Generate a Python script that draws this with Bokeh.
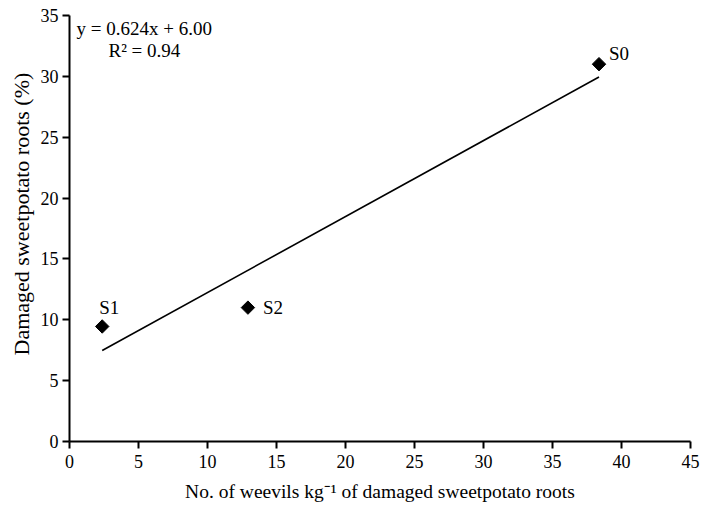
import math
from bokeh.plotting import figure
from bokeh.models import Range1d, FixedTicker, ColumnDataSource, Label, Title
from bokeh.core.properties import value
from bokeh.embed import file_html
from bokeh.resources import INLINE

# data
labels = ["S0", "S1", "S2"]
weevils = [38.37, 2.37, 12.93]
damaged = [31.0, 9.45, 11.0]
slope = 0.624
intercept = 6.00
r2 = 0.94
x_ticks = [0, 5, 10, 15, 20, 25, 30, 35, 40, 45]
y_ticks = [0, 5, 10, 15, 20, 25, 30, 35]
x_title = "No. of weevils kg\u207b\u00b9 of damaged sweetpotato roots"
y_title = "Damaged sweetpotato roots (%)"

FONT = "Liberation Serif"

p = figure(width=700, height=504, output_backend="svg", toolbar_location=None,
           x_range=Range1d(0, 45), y_range=Range1d(0, 35),
           min_border_left=69, min_border_right=10, min_border_top=15, min_border_bottom=63)
p.outline_line_color = None
p.grid.visible = False
p.background_fill_color = "white"

for ax in (p.xaxis[0], p.yaxis[0]):
    ax.axis_line_width = 2
    ax.axis_line_color = "black"
    ax.major_tick_line_width = 2
    ax.major_tick_out = 7
    ax.major_tick_in = 0
    ax.minor_tick_line_color = None
    ax.major_label_text_font = FONT
    ax.major_label_text_font_size = "18px"
    ax.major_label_text_color = "black"
    ax.axis_label_text_font = FONT
    ax.axis_label_text_font_style = "normal"
    ax.axis_label_text_color = "black"

p.xaxis.ticker = FixedTicker(ticks=x_ticks)
p.yaxis.ticker = FixedTicker(ticks=y_ticks)
p.xaxis.axis_label = x_title
p.xaxis.axis_label_text_font_size = "19.5px"
p.xaxis.major_label_standoff = 6
p.yaxis.major_label_standoff = 4
p.xaxis.axis_label_standoff = 10

# y title as a side title so it can sit slightly above the frame centre
p.add_layout(Title(text=y_title, align="left", offset=86, standoff=8,
                   text_font=FONT, text_font_size="22px", text_font_style="normal",
                   text_color="black"), "left")

# regression line over data span
xmin, xmax = min(weevils), max(weevils)
p.line([xmin, xmax], [slope * xmin + intercept, slope * xmax + intercept],
       line_color="black", line_width=1.6)

src = ColumnDataSource(dict(x=weevils, y=damaged, lab=labels,
                            xo=[10, -3, 15], yo=[-11, -19, 0]))
p.scatter("x", "y", source=src, marker="square", size=9.5, angle=math.pi / 4,
          color="black")
p.text("x", "y", text="lab", source=src, x_offset="xo", y_offset="yo",
       text_font=value(FONT), text_font_size="19px", text_baseline="middle",
       text_align="left", text_color="black")

p.add_layout(Label(x=0, y=35, x_units="data", y_units="data", x_offset=7, y_offset=-13,
                   text=f"y = {slope:.3f}x + {intercept:.2f}", text_font=FONT,
                   text_font_size="19px", text_baseline="alphabetic", text_color="black"))
p.add_layout(Label(x=0, y=35, x_units="data", y_units="data", x_offset=39, y_offset=-35,
                   text=f"R\u00b2 = {r2:.2f}", text_font=FONT,
                   text_font_size="19px", text_baseline="alphabetic", text_color="black"))

open("out.html", "w").write(file_html(p, INLINE))
